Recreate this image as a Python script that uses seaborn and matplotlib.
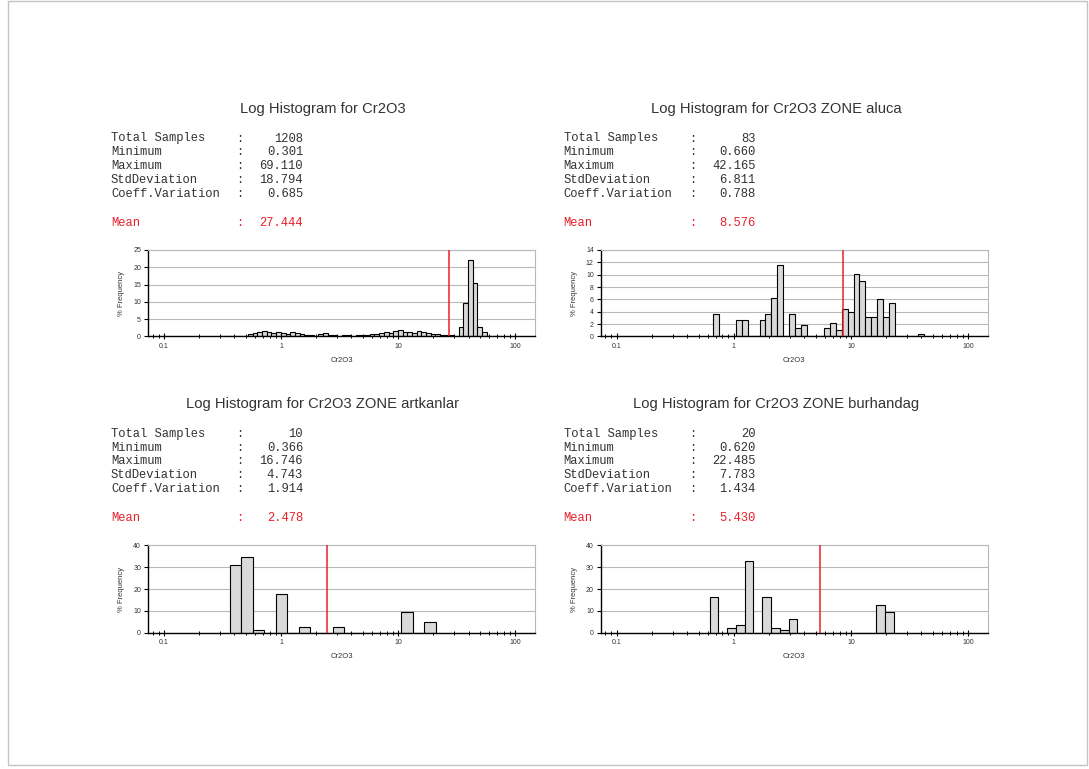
import numpy as np
import pandas as pd
import matplotlib
matplotlib.use("Agg")
import matplotlib.pyplot as plt
from matplotlib.patches import Rectangle
from matplotlib.ticker import LogLocator, NullFormatter, FixedLocator
import seaborn as sns

# ---- summary statistics per data set ----
titles = [
    "Log Histogram for Cr2O3",
    "Log Histogram for Cr2O3 ZONE aluca",
    "Log Histogram for Cr2O3 ZONE artkanlar",
    "Log Histogram for Cr2O3 ZONE burhandag",
]
stat_labels = ["Total Samples", "Minimum", "Maximum", "StdDeviation", "Coeff.Variation"]
total_samples = [1208, 83, 10, 20]
minimum = [0.301, 0.660, 0.366, 0.620]
maximum = [69.110, 42.165, 16.746, 22.485]
std_dev = [18.794, 6.811, 4.743, 7.783]
coeff_var = [0.685, 0.788, 1.914, 1.434]
mean = [27.444, 8.576, 2.478, 5.430]

# ---- class frequencies (%), equal log10-width classes starting at the minimum ----
class_width = [0.04, 0.0501, 0.0977, 0.075]
freq_all = [
    0.08, 0.0, 0.08, 0.17, 0.17, 0.25, 0.6, 1.1, 1.3, 1.6,
    1.2, 0.9, 1.4, 1.0, 0.7, 1.2, 1.1, 0.8, 0.5, 0.3,
    0.2, 0.6, 0.9, 0.5, 0.3, 0.2, 0.4, 0.3, 0.25, 0.3,
    0.4, 0.5, 0.6, 0.8, 1.0, 1.3, 1.1, 1.6, 1.8, 1.2,
    1.4, 1.1, 1.5, 1.2, 0.9, 0.8, 0.6, 0.5, 0.4, 0.3,
    0.2, 2.7, 9.8, 22.1, 15.4, 2.7, 1.4, 0.2, 0.1, 0.08,
]
freq_aluca = [
    3.6, 0, 0, 0, 2.7, 2.7, 0, 0, 2.7, 3.6,
    6.2, 11.6, 0, 3.6, 1.4, 1.8, 0, 0, 0, 1.4,
    2.2, 1.1, 4.4, 4.0, 10.1, 9.0, 3.1, 3.1, 6.1, 3.1,
    5.4, 0, 0, 0, 0, 0.45,
]
freq_artkanlar = [31.0, 34.8, 1.2, 0, 17.6, 0, 2.6, 0, 0, 2.6,
                  0, 0, 0, 0, 0, 9.3, 0, 5.1]
freq_burhandag = [16.3, 0, 2.3, 3.6, 32.7, 0, 16.3, 2.3, 1.2, 6.2,
                  0, 0, 0, 0, 0, 0, 0, 0, 0, 12.8, 9.3]
frequencies = [freq_all, freq_aluca, freq_artkanlar, freq_burhandag]

y_max = [25, 14, 40, 40]
y_step = [5, 2, 10, 10]
x_ticks = [0.1, 1, 10, 100]
x_tick_labels = ["0.1", "1", "10", "100"]
x_label = "Cr2O3"
y_label = "% Frequency"

# ---- style ----
sns.set_style("white")
plt.rcParams["font.family"] = ["Liberation Sans", "DejaVu Sans"]
W, H = 1089, 769
fig = plt.figure(figsize=(W / 100, H / 100), dpi=100)
fig.patch.set_facecolor("white")

RED = "#e8202a"
TXT = "#333333"
GRID = "#b8b8b8"


def fx(px):
    return px / W


def fy(py):
    return 1 - py / H


# panel anchors: axes left, right, top, bottom (pixels)
boxes = [
    (148, 535, 250, 336.5),
    (600.7, 988, 250, 336.5),
    (148, 535, 545.4, 632.7),
    (600.7, 988, 545.4, 632.7),
]

for i, (l, r, t, b) in enumerate(boxes):
    ax = fig.add_axes([fx(l), fy(b), fx(r - l), (b - t) / H])
    freq = np.asarray(frequencies[i], dtype=float)
    lo = np.log10(minimum[i])
    hi = lo + class_width[i] * len(freq)
    mids = 10 ** (lo + class_width[i] * (np.arange(len(freq)) + 0.5))
    df = pd.DataFrame({"value": mids, "pct": freq})
    sns.histplot(data=df, x="value", weights="pct", binwidth=class_width[i],
                 binrange=(lo, hi), log_scale=True, ax=ax,
                 color="#d9d9d9", edgecolor="black", linewidth=0.8, alpha=1)
    ax.axvline(mean[i], color=RED, lw=1.1, zorder=5)

    ax.set_xlim(0.073, 148)
    ax.set_ylim(0, y_max[i])
    ax.set_yticks(np.arange(0, y_max[i] + 0.1, y_step[i]))
    ax.xaxis.set_major_locator(FixedLocator(x_ticks))
    ax.set_xticklabels(x_tick_labels)
    ax.xaxis.set_minor_locator(LogLocator(base=10, subs=np.arange(2, 10)))
    ax.xaxis.set_minor_formatter(NullFormatter())
    ax.yaxis.grid(True, color=GRID, lw=0.8)
    ax.set_axisbelow(True)
    ax.tick_params(which="both", bottom=True, left=True, top=False, right=False)
    ax.tick_params(axis="both", which="major", labelsize=5, colors="black",
                   labelcolor=TXT, length=3, width=0.8, pad=2)
    ax.tick_params(axis="x", which="major", direction="inout", length=5)
    ax.tick_params(axis="x", which="minor", direction="inout", length=3, width=0.7,
                   colors="black")
    ax.tick_params(axis="y", which="minor", left=False)
    for side in ("left", "bottom"):
        ax.spines[side].set_color("black")
        ax.spines[side].set_linewidth(1.0)
    for side in ("top", "right"):
        ax.spines[side].set_color(GRID)
        ax.spines[side].set_linewidth(0.8)
    ax.set_xlabel(x_label, fontsize=5.5, color=TXT, labelpad=5)
    ax.set_ylabel(y_label, fontsize=5.5, color=TXT, labelpad=6)

    # title and statistics block
    lab_x = l - 37
    fig.text(fx((lab_x + r) / 2), fy(t - 141), titles[i], ha="center", va="center",
             fontsize=10.6, color=TXT)
    values = [f"{total_samples[i]}", f"{minimum[i]:.3f}", f"{maximum[i]:.3f}",
              f"{std_dev[i]:.3f}", f"{coeff_var[i]:.3f}"]
    row0 = t - 111.5
    for j, (lab, val) in enumerate(zip(stat_labels, values)):
        yy = fy(row0 + j * 13.8)
        fig.text(fx(lab_x), yy, lab, ha="left", va="center", fontsize=8.7,
                 family="Liberation Mono", color=TXT)
        fig.text(fx(l + 92), yy, ":", ha="center", va="center", fontsize=8.7,
                 family="Liberation Mono", color=TXT)
        fig.text(fx(l + 155), yy, val, ha="right", va="center", fontsize=8.7,
                 family="Liberation Mono", color=TXT)
    yy = fy(row0 + 84)
    fig.text(fx(lab_x), yy, "Mean", ha="left", va="center", fontsize=8.7,
             family="Liberation Mono", color=RED)
    fig.text(fx(l + 92), yy, ":", ha="center", va="center", fontsize=8.7,
             family="Liberation Mono", color=RED)
    fig.text(fx(l + 155), yy, f"{mean[i]:.3f}", ha="right", va="center", fontsize=8.7,
             family="Liberation Mono", color=RED)

# page frame
fig.patches.append(Rectangle((fx(8), fy(765)), fx(1087 - 8), (765 - 1) / H,
                             transform=fig.transFigure, fill=False,
                             edgecolor="#c4c4c4", lw=1.0))

fig.savefig("out.png", dpi=100, facecolor="white")
